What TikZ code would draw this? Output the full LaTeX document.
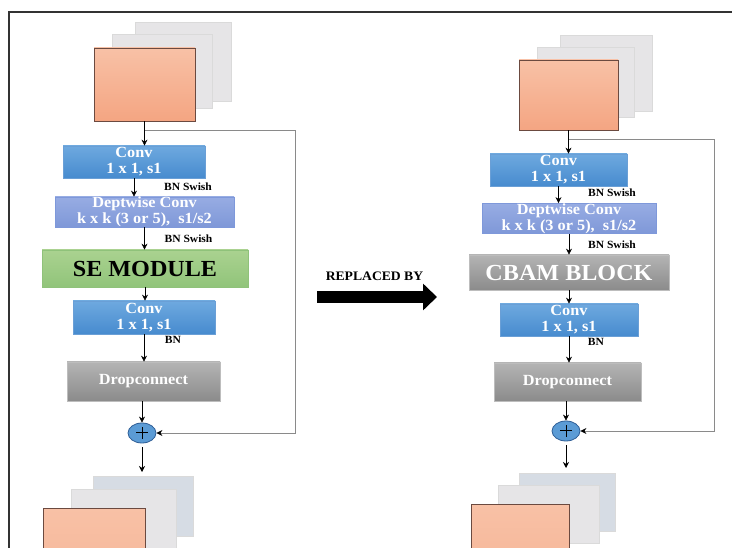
\documentclass[tikz,border=0pt]{standalone}
\usepackage{fontspec}
\setmainfont{Liberation Serif}[FakeStretch=1.05]
\usetikzlibrary{arrows.meta,shapes.geometric}
\definecolor{orT}{HTML}{F8C1A6}
\definecolor{orB}{HTML}{F4A582}
\definecolor{orD}{HTML}{6B4A40}
\definecolor{stk}{HTML}{E6E5E7}
\definecolor{stkD}{HTML}{DADADA}
\definecolor{stkB}{HTML}{D6DCE4}
\definecolor{cvT}{HTML}{6EA9DF}
\definecolor{cvB}{HTML}{478BCF}
\definecolor{cvD}{HTML}{6A9FD6}
\definecolor{dwT}{HTML}{97ACE3}
\definecolor{dwB}{HTML}{7F98D8}
\definecolor{dwD}{HTML}{7E98DA}
\definecolor{seT}{HTML}{AAD290}
\definecolor{seB}{HTML}{91C47A}
\definecolor{seD}{HTML}{8FC27A}
\definecolor{grT}{HTML}{B4B4B4}
\definecolor{grB}{HTML}{8B8B8B}
\definecolor{grD}{HTML}{BDBDBD}
\definecolor{plF}{HTML}{5B9BD5}
\definecolor{plD}{HTML}{2F5E96}
\definecolor{skp}{HTML}{8A8A8A}
\tikzset{
  box/.style={rectangle, inner sep=0pt, align=center, text=white,
    font=\bfseries\fontsize{15.5}{16}\selectfont, line width=0.7pt},
  convbox/.style={box, top color=cvT, bottom color=cvB, draw=cvD},
  dwbox/.style={box, top color=dwT, bottom color=dwB, draw=dwD},
  sebox/.style={box, top color=seT, bottom color=seB, draw=seD, text=black,
    font=\bfseries\fontsize{23}{23}\selectfont},
  graybox/.style={box, top color=grT, bottom color=grB, draw=grD},
  cbambox/.style={graybox, font=\bfseries\fontsize{23}{23}\selectfont},
  orbox/.style={rectangle, inner sep=0pt, top color=orT, bottom color=orB, draw=orD, line width=0.7pt},
  stkbox/.style={rectangle, inner sep=0pt, fill=stk, draw=stkD, line width=0.5pt},
  stkblue/.style={rectangle, inner sep=0pt, fill=stkB, draw=stkD, line width=0.5pt},
  plusnode/.style={ellipse, fill=plF, draw=plD, line width=0.8pt, minimum width=28pt, minimum height=20pt, inner sep=0pt},
  lbl/.style={font=\bfseries\fontsize{11}{11}\selectfont, inner sep=0pt},
  arr/.style={-{Stealth[length=6pt,width=6pt]}, line width=0.6pt},
  skipline/.style={draw=skp, line width=0.9pt, -{Stealth[length=6pt,width=6pt,color=black]}},
}
\begin{document}
\begin{tikzpicture}[x=1pt,y=-1pt]
\useasboundingbox (0,0) rectangle (732,548);
\clip (0,0) rectangle (732,548);
\fill[white] (0,0) rectangle (732,548);
% frame
\draw[line width=1.3pt, color=black!80] (9,560) -- (9,12) -- (740,12);

% ---------------- left column ----------------
\node[stkbox, minimum width=96pt, minimum height=79pt] (inLb) at (183,61.5) {};
\node[stkbox, minimum width=100pt, minimum height=74pt] (inLm) at (162,71) {};
\node[orbox, minimum width=101pt, minimum height=73pt] (inL) at (144.5,84.5) {};

\node[convbox, minimum width=142pt, minimum height=32pt] (c1L) at (134,162) {Conv\\1 x 1, s1};
\node[dwbox, minimum width=179pt, minimum height=30pt] (dwL) at (144.5,212) {Deptwise Conv\\k x k (3 or 5),~ s1/s2};
\node[sebox, minimum width=206pt, minimum height=37pt] (seL) at (145,268.5) {SE MODULE};
\node[convbox, minimum width=142pt, minimum height=33pt] (c2L) at (144,317.5) {Conv\\1 x 1, s1};
\node[graybox, minimum width=153pt, minimum height=39pt] (drL) at (143.5,381.5) {Dropconnect};
\node[plusnode] (plL) at (142,433) {};
\draw[line width=1pt] ([xshift=-6pt]plL.center) -- ([xshift=6pt]plL.center)
  ([yshift=-6pt]plL.center) -- ([yshift=6pt]plL.center);

\node[lbl] (bn1L) at (188,187) {BN Swish};
\node[lbl] (bn2L) at (188.5,239) {BN Swish};
\node[lbl] (bn3L) at (173,340) {BN};

\node[stkblue, minimum width=100pt, minimum height=60pt] (outLb) at (143,506) {};
\node[stkbox, minimum width=105pt, minimum height=71pt] (outLm) at (123.5,524.5) {};
\node[orbox, minimum width=102pt, minimum height=62pt, top color=orT, bottom color=orT!70!orB] (outL) at (94,539) {};

\coordinate (brL) at (144.5,130);
\coordinate (cnL) at (295,130);
\draw[skipline] (brL) -- (cnL) |- (plL.east);
\draw[arr] (inL.south) -- (inL.south |- c1L.north);
\draw[arr] (c1L.south) -- (c1L.south |- dwL.north);
\draw[arr] (dwL.south) -- (dwL.south |- seL.north);
\draw[arr] (seL.south) -- (seL.south |- c2L.north);
\draw[arr] (c2L.south) -- (c2L.south |- drL.north);
\draw[arr] (drL.south -| plL.north) -- (plL.north);
\coordinate (oaL) at (142,472);
\draw[arr] ([yshift=-4pt]plL.south) -- (oaL);

% ---------------- replaced by ----------------
\node[font=\bfseries\fontsize{13}{13}\selectfont, inner sep=0pt] (rep) at (374.5,276) {REPLACED BY};
\coordinate (rs) at (317,297);
\coordinate (re) at (437,297);
\draw[line width=12pt, -{Triangle[length=14pt,width=26pt]}] (rs) -- (re);

% ---------------- right column ----------------
\node[stkbox, minimum width=92pt, minimum height=76pt] (inRb) at (606,73) {};
\node[stkbox, minimum width=97pt, minimum height=70pt] (inRm) at (585.5,82) {};
\node[orbox, minimum width=99pt, minimum height=70pt] (inR) at (568.5,95) {};

\node[convbox, minimum width=137pt, minimum height=32pt] (c1R) at (558.5,170) {Conv\\1 x 1, s1};
\node[dwbox, minimum width=174pt, minimum height=29pt] (dwR) at (569,218.5) {Deptwise Conv\\k x k (3 or 5),~ s1/s2};
\node[cbambox, minimum width=200pt, minimum height=35pt] (cbR) at (569,272.5) {CBAM BLOCK};
\node[convbox, minimum width=138pt, minimum height=32pt] (c2R) at (569,320) {Conv\\1 x 1, s1};
\node[graybox, minimum width=147pt, minimum height=38pt] (drR) at (567.5,382) {Dropconnect};
\node[plusnode] (plR) at (566,431) {};
\draw[line width=1pt] ([xshift=-6pt]plR.center) -- ([xshift=6pt]plR.center)
  ([yshift=-6pt]plR.center) -- ([yshift=6pt]plR.center);

\node[lbl] (bn1R) at (612,193) {BN Swish};
\node[lbl] (bn2R) at (612,245) {BN Swish};
\node[lbl] (bn3R) at (596,342) {BN};

\node[stkblue, minimum width=96pt, minimum height=58pt] (outRb) at (567,502) {};
\node[stkbox, minimum width=101pt, minimum height=58pt] (outRm) at (548.5,514) {};
\node[orbox, minimum width=98pt, minimum height=56pt, top color=orT, bottom color=orT!70!orB] (outR) at (520,532) {};

\coordinate (brR) at (568.5,139);
\coordinate (cnR) at (714,139);
\draw[skipline] (brR) -- (cnR) |- (plR.east);
\draw[arr] (inR.south) -- (inR.south |- c1R.north);
\draw[arr] (c1R.south) -- (c1R.south |- dwR.north);
\draw[arr] (dwR.south) -- (dwR.south |- cbR.north);
\draw[arr] (cbR.south) -- (cbR.south |- c2R.north);
\draw[arr] (c2R.south) -- (c2R.south |- drR.north);
\draw[arr] (drR.south -| plR.north) -- (plR.north);
\coordinate (oaR) at (566,468);
\draw[arr] ([yshift=-4pt]plR.south) -- (oaR);
\end{tikzpicture}
\end{document}
